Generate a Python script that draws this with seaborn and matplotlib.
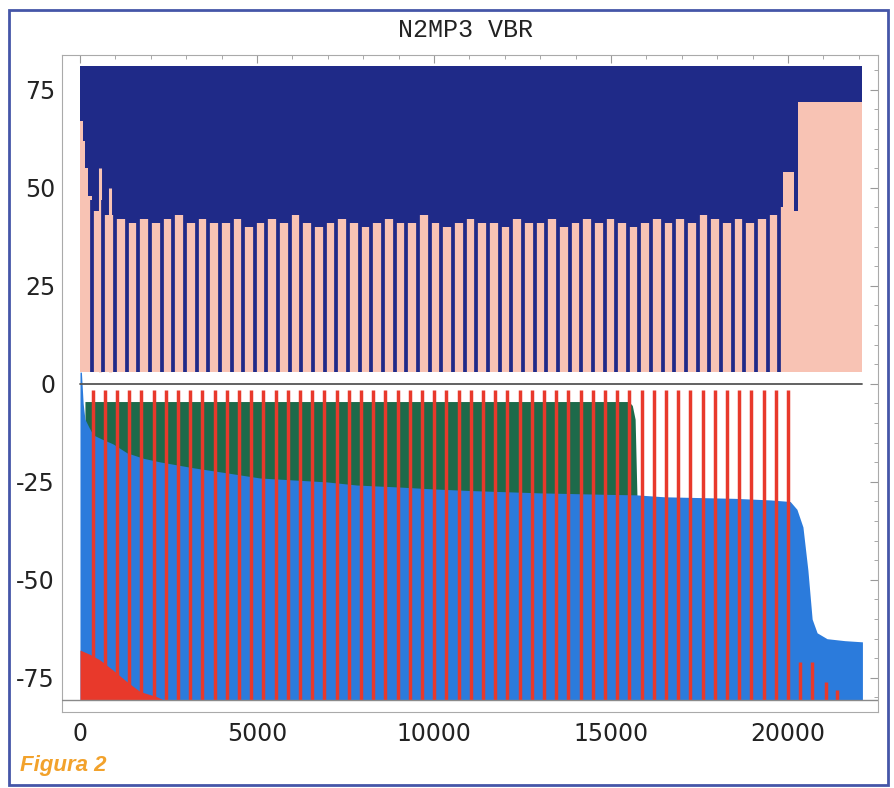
import matplotlib
matplotlib.use("Agg")
import matplotlib.pyplot as plt
from matplotlib.patches import Rectangle
from matplotlib.ticker import MultipleLocator
import seaborn as sns
import pandas as pd

# ---------------- upper half (stereo frames) ----------------
navy_top = 81
upper_base = 3

pink_start_x = [0, 80, 140, 230]
pink_start_y = [67, 62, 55, 48]

# positions where the pink fill drops back to the base
upper_dips = [330, 659, 988, 1318, 1647, 1976, 2305, 2634, 2964, 3293,
              3622, 3951, 4280, 4610, 4939, 5268, 5597, 5926, 6256, 6585,
              6914, 7243, 7572, 7902, 8231, 8560, 8889, 9218, 9548, 9877,
              10206, 10535, 10864, 11194, 11523, 11852, 12181, 12510, 12840, 13169,
              13498, 13827, 14156, 14486, 14815, 15144, 15473, 15802, 16132, 16461,
              16790, 17119, 17448, 17778, 18107, 18436, 18765, 19094, 19424, 19753]
# level of the pink fill after each dip
seg_tops = [44, 43, 42, 41, 42, 41, 42, 43, 41, 42,
            41, 41, 42, 40, 41, 42, 41, 43, 41, 40,
            41, 42, 41, 40, 41, 42, 41, 41, 43, 41,
            40, 41, 42, 41, 41, 40, 42, 41, 41, 42,
            40, 41, 42, 41, 42, 41, 40, 41, 42, 41,
            42, 41, 43, 42, 41, 42, 41, 42, 43, 45]
pink_tail_x = [19860, 20160, 20280, 22080]
pink_tail_y = [54, 44, 72, 72]

pink_spike_x = [565, 850]
pink_spike_y = [55, 50]

# ---------------- lower half (joint stereo) ----------------
blue_x = [0, 40, 90, 140, 250, 370, 600, 930, 1330, 1800, 2260, 3200, 4150,
          5080, 6020, 6970, 7820, 9000, 10000, 11000, 12000, 13000, 14000,
          15000, 15700, 16500, 17500, 18500, 19500, 20060, 20250, 20420,
          20560, 20680, 20820, 21100, 21600, 22100]
blue_y = [3, 3, -5, -9, -11, -13, -14, -15.3, -17.6, -19, -19.9, -21.4, -22.7,
          -24, -24.5, -25, -25.8, -26.3, -26.8, -27.2, -27.5, -27.8, -28,
          -28.2, -28.3, -28.8, -29, -29.2, -29.6, -30, -32, -36.5,
          -47.5, -60, -63.5, -65, -65.5, -65.8]

green_x = [140, 15500, 15600, 15680, 15730]
green_y = [-4.5, -4.5, -5.5, -9, -28]

red_fill_x = [0, 280, 560, 930, 1330, 1700, 2170, 2350]
red_fill_y = [-67.9, -69, -70.4, -73, -76, -78.5, -79.8, -80.6]

red_lines_x = [358, 703, 1047, 1392, 1736, 2081, 2426, 2770, 3115, 3459,
               3804, 4149, 4493, 4838, 5182, 5527, 5872, 6216, 6561, 6905,
               7250, 7595, 7939, 8284, 8628, 8973, 9318, 9662, 10007, 10351,
               10696, 11041, 11385, 11730, 12074, 12419, 12764, 13108, 13453, 13797,
               14142, 14487, 14831, 15176, 15520, 15865, 16210, 16554, 16899, 17243,
               17588, 17933, 18277, 18622, 18966, 19311, 19656, 20000]
red_short_x = [20340, 20680, 21080, 21390]
red_short_top = [-71, -71, -76, -78]

lower_base = -80.6
data_end = 22080

NAVY = "#1f2a88"
PINK = "#f8c3b4"
BLUE = "#2b7bdc"
GREEN = "#1d6a4a"
RED = "#e8392b"

sns.set_theme(style="white")
plt.rcParams["axes.unicode_minus"] = False

fig = plt.figure(figsize=(8.94, 7.88), dpi=100)
ax = fig.add_axes([62 / 894, 1 - 712 / 788, (878 - 62) / 894, (712 - 55) / 788])

# upper
ax.fill_between([0, data_end], upper_base, navy_top, color=NAVY, lw=0, zorder=1)
pink_x = pink_start_x + upper_dips + pink_tail_x
pink_y = pink_start_y + seg_tops + pink_tail_y
ax.fill_between(pink_x, upper_base, pink_y, step="post", color=PINK, lw=0, zorder=2)
ax.vlines(pink_spike_x, upper_base, pink_spike_y, color=PINK, lw=2.2, zorder=2)
ax.vlines(upper_dips, upper_base, 47, color=NAVY, lw=2.7, zorder=3)

# lower
ax.fill_between(green_x, -35, green_y, color=GREEN, lw=0, zorder=1)
ax.fill_between(blue_x, lower_base, blue_y, color=BLUE, lw=0, zorder=2)
ax.fill_between(red_fill_x, lower_base, red_fill_y, color=RED, lw=0, zorder=3)
ax.vlines(red_lines_x, lower_base, -1.5, color=RED, lw=2.5, zorder=4)
ax.vlines(red_short_x, lower_base, red_short_top, color=RED, lw=2.5, zorder=4)

zero_line = pd.DataFrame({"x": [0, data_end], "y": [0, 0]})
sns.lineplot(data=zero_line, x="x", y="y", color="#555555", lw=1.3, ax=ax, zorder=5)
ax.axhline(lower_base, color="#8a8a8a", lw=1.0, zorder=5)

ax.set_xlim(-508, 22540)
ax.set_ylim(-83.7, 83.9)
ax.set_xlabel("")
ax.set_ylabel("")
ax.xaxis.set_major_locator(MultipleLocator(5000))
ax.xaxis.set_minor_locator(MultipleLocator(1000))
ax.yaxis.set_major_locator(MultipleLocator(25))
ax.yaxis.set_minor_locator(MultipleLocator(5))
ax.tick_params(which="both", direction="in", top=True, right=True, color="#999999")
ax.tick_params(which="major", length=6, width=0.8, labelsize=17, labelcolor="#222222")
ax.tick_params(which="minor", length=3, width=0.6)
ax.tick_params(axis="x", pad=7)
ax.tick_params(axis="y", pad=5)
for sp in ax.spines.values():
    sp.set_color("#aaaaaa")
    sp.set_linewidth(0.8)

fig.text(465 / 894, 1 - 30 / 788, "N2MP3 VBR", family="Liberation Mono",
         fontsize=18, ha="center", va="center", color="#222222")
fig.text(20 / 894, 1 - 766 / 788, "Figura 2", family="Liberation Sans",
         fontsize=16, fontweight="bold", fontstyle="italic", color="#f2a22c",
         ha="left", va="center")

fig.patches.append(Rectangle((9 / 894, 3 / 788), 879 / 894, 775 / 788,
                             transform=fig.transFigure, fill=False,
                             edgecolor="#4556a8", lw=2))

fig.savefig("out.png", dpi=100)
